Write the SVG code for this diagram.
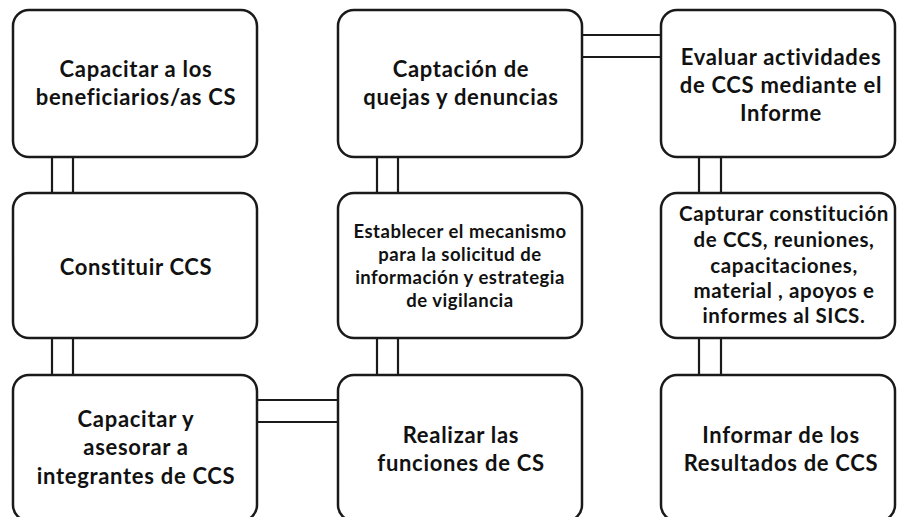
<svg xmlns="http://www.w3.org/2000/svg" width="897" height="517" viewBox="0 0 897 517">
<style>
.box{fill:#fff;stroke:#1a1a1a;stroke-width:2.5}
.con{stroke:#1a1a1a;stroke-width:2.2;fill:none}
text{font-family:Lato,"Liberation Sans",sans-serif;font-weight:bold;fill:#111;text-anchor:middle}
.t22{font-size:22px;letter-spacing:0.7px}
.t20{font-size:20.5px;letter-spacing:0.6px}
.t18{font-size:18.5px;letter-spacing:0.5px}
</style>
<rect width="897" height="517" fill="#fff"/>
<g id="connectors">
<line class="con" x1="52" y1="157" x2="52" y2="193"/>
<line class="con" x1="73" y1="157" x2="73" y2="193"/>
<line class="con" x1="52" y1="338" x2="52" y2="375"/>
<line class="con" x1="73" y1="338" x2="73" y2="375"/>
<line class="con" x1="377" y1="157" x2="377" y2="193"/>
<line class="con" x1="398" y1="157" x2="398" y2="193"/>
<line class="con" x1="377" y1="338" x2="377" y2="375"/>
<line class="con" x1="398" y1="338" x2="398" y2="375"/>
<line class="con" x1="699" y1="157" x2="699" y2="193" stroke-width="2.8"/>
<line class="con" x1="721" y1="157" x2="721" y2="193" stroke-width="2.8"/>
<line class="con" x1="699" y1="338" x2="699" y2="375" stroke-width="2.8"/>
<line class="con" x1="721" y1="338" x2="721" y2="375" stroke-width="2.8"/>
<line class="con" x1="257" y1="400" x2="338" y2="400"/>
<line class="con" x1="257" y1="422" x2="338" y2="422"/>
<line class="con" x1="582" y1="35" x2="661" y2="35"/>
<line class="con" x1="582" y1="57" x2="661" y2="57"/>
</g>
<g id="n1">
<rect class="box" x="13" y="10" width="244" height="147" rx="16"/>
<text class="t22" x="136" y="77">Capacitar a los</text>
<text class="t22" x="136" y="105">beneficiarios/as CS</text>
</g>
<g id="n2">
<rect class="box" x="338" y="10" width="244" height="147" rx="16"/>
<text class="t22" x="461" y="77">Captación de</text>
<text class="t22" x="461" y="105">quejas y denuncias</text>
</g>
<g id="n3">
<rect class="box" x="661" y="10" width="234" height="147" rx="16"/>
<text class="t22" x="781" y="65">Evaluar actividades</text>
<text class="t22" x="781" y="93">de CCS mediante el</text>
<text class="t22" x="781" y="121">Informe</text>
</g>
<g id="n4">
<rect class="box" x="13" y="193" width="244" height="145" rx="16"/>
<text class="t22" x="136" y="275">Constituir CCS</text>
</g>
<g id="n5">
<rect class="box" x="338" y="193" width="244" height="145" rx="16"/>
<text class="t18" x="460" y="238">Establecer el mecanismo</text>
<text class="t18" x="460" y="261">para la solicitud de</text>
<text class="t18" x="460" y="284">información y estrategia</text>
<text class="t18" x="460" y="307">de vigilancia</text>
</g>
<g id="n6">
<rect class="box" x="661" y="193" width="234" height="145" rx="16"/>
<text class="t20" x="784" y="221">Capturar constitución</text>
<text class="t20" x="784" y="247">de  CCS, reuniones,</text>
<text class="t20" x="784" y="273">capacitaciones,</text>
<text class="t20" x="784" y="298">material , apoyos e</text>
<text class="t20" x="784" y="323">informes al SICS.</text>
</g>
<g id="n7">
<rect class="box" x="13" y="375" width="244" height="146" rx="16"/>
<text class="t22" x="136" y="427">Capacitar y</text>
<text class="t22" x="136" y="455">asesorar a</text>
<text class="t22" x="136" y="484">integrantes de CCS</text>
</g>
<g id="n8">
<rect class="box" x="338" y="375" width="244" height="146" rx="16"/>
<text class="t22" x="461" y="443">Realizar las</text>
<text class="t22" x="461" y="471">funciones de CS</text>
</g>
<g id="n9">
<rect class="box" x="661" y="375" width="234" height="146" rx="16"/>
<text class="t22" x="781" y="443">Informar de los</text>
<text class="t22" x="781" y="471">Resultados de CCS</text>
</g>
</svg>
